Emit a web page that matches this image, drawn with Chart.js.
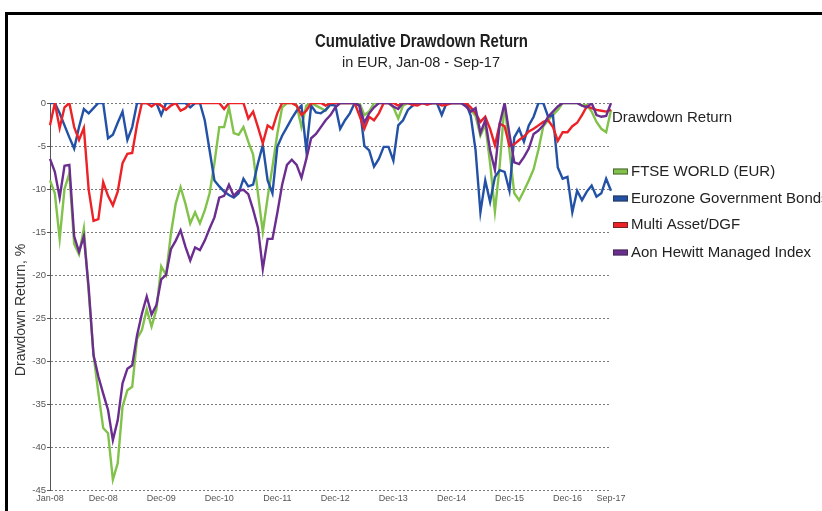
<!DOCTYPE html>
<html>
<head>
<meta charset="utf-8">
<script src="https://cdn.jsdelivr.net/npm/chart.js@4"></script>
<style>
html,body{margin:0;padding:0;background:#fff;}
#wrap{position:relative;width:822px;height:511px;overflow:hidden;}
#c{position:absolute;left:0;top:0;}
#frame{position:absolute;left:5px;top:12px;right:-10px;bottom:-10px;border-left:3px solid #000;border-top:3px solid #000;pointer-events:none;}
</style>
</head>
<body>
<div id="wrap"><canvas id="c" width="822" height="511"></canvas><div id="frame"></div></div>
<script>
// ---- data ----
const chartTitle = "Cumulative Drawdown Return";
const chartSubtitle = "in EUR, Jan-08 - Sep-17";
const yAxisTitle = "Drawdown Return, %";
const legendTitle = "Drawdown Return";
const seriesNames = ["FTSE WORLD (EUR)", "Eurozone Government Bonds", "Multi Asset/DGF", "Aon Hewitt Managed Index"];
const tickLabels = ["Jan-08","Dec-08","Dec-09","Dec-10","Dec-11","Dec-12","Dec-13","Dec-14","Dec-15","Dec-16","Sep-17"];
const monthNames = ["Jan","Feb","Mar","Apr","May","Jun","Jul","Aug","Sep","Oct","Nov","Dec"];
const firstYear = 2008, lastYear = 2017, lastMonthOfLastYear = 9;
const months = [];
for (let y = firstYear; y <= lastYear; y++) {
  for (let m = 0; m < 12; m++) {
    if (y === lastYear && m >= lastMonthOfLastYear) break;
    months.push(monthNames[m] + "-" + String(y).slice(2));
  }
}

const ftseWorld = [
  -9.0, -10.5, -15.8, -10.0, -8.2, -16.4, -17.6, -14.6, -22.0, -29.3,
  -33.7, -37.8, -38.4, -43.8, -41.9, -35.3, -33.4, -33.0, -27.4, -26.4,
  -24.0, -26.0, -24.0, -19.0, -20.0, -15.2, -11.7, -9.8, -11.7, -14.0,
  -12.7, -14.0, -12.5, -10.5, -7.0, -2.8, -2.8, -0.5, -3.5, -3.7,
  -2.8, -4.5, -6.0, -10.5, -15.0, -11.0, -7.4, -3.6, -0.5, 0,
  0, -0.3, -2.8, -0.3, 0, -0.3, -0.6, -0.9, 0, 0,
  0, 0, 0, 0, 0, -1.4, -1.0, 0, 0, 0,
  0, -0.5, -1.8, -0.3, 0, 0, 0, 0, 0, 0,
  0, 0, 0, 0, 0, 0, 0, -0.8, -1.5, -3.8,
  -2.5, -7.0, -12.6, -7.2, 0, -5.5, -10.5, -11.3, -10.2, -9.0,
  -7.7, -5.4, -2.7, -2.0, -1.4, -0.8, 0, 0, 0, 0,
  -0.3, -0.2, -1.0, -2.2, -3.0, -3.4, -0.8
];
const eurozoneBonds = [
  0, 0, -1.2, -2.6, -4.0, -5.3, -2.8, -0.7, -1.2, -0.6,
  0, 0, -4.1, -3.7, -2.3, -1.0, -4.3, -2.8, 0, 0,
  0, 0, 0, -1.4, 0, 0, 0, 0, 0, -0.5,
  0, 0, -2.0, -5.5, -9.0, -9.7, -10.3, -10.7, -11.0, -10.5,
  -8.8, -9.7, -9.5, -7.0, -4.9, -9.0, -10.5, -5.1, -3.8, -2.8,
  -1.8, -0.9, -0.3, -5.5, -0.3, -1.1, -1.2, -0.8, -0.2, -0.3,
  -3.0, -2.0, -1.2, 0, -0.3, -5.0, -5.5, -7.4, -6.5, -5.1,
  -5.1, -6.7, -2.6, -2.0, -0.8, -0.3, 0, 0, 0, 0,
  0, -1.4, 0, 0, 0, 0, 0, -1.5, -5.5, -12.7,
  -9.0, -11.5, -8.6, -7.8, -8.0, -10.2, -4.0, -3.0, -4.5, -2.6,
  -1.6, 0, 0, -1.6, -1.4, -7.5, -8.8, -8.6, -12.7, -10.2,
  -11.3, -10.3, -9.6, -10.9, -10.5, -8.8, -10.2
];
const multiAsset = [
  -2.6, 0, -2.9, -0.5, 0, -2.8, -4.3, -2.9, -10.1, -13.7,
  -13.5, -9.2, -10.8, -11.9, -10.3, -7.0, -5.9, -5.8, -2.5, 0,
  0, -0.4, 0, -0.3, -0.8, -0.3, 0, -0.9, -0.6, 0,
  0, 0, 0, 0, 0, 0, -0.7, 0, 0, 0,
  0, -1.8, -1.0, -2.8, -4.7, -2.6, -3.0, -1.2, 0, 0,
  0, -0.3, -1.4, -0.9, 0, 0, 0, -0.3, 0, 0,
  0, 0, 0, 0, -1.5, -3.0, -1.6, -2.0, -1.2, 0,
  0, 0, -0.3, 0, 0, -0.2, -0.3, 0, -0.2, 0,
  0, -0.3, -0.2, 0, 0, 0, 0, -0.5, -1.2, -2.2,
  -1.6, -3.0, -4.9, -2.4, -2.7, -5.0, -4.8, -4.3, -3.9, -3.3,
  -3.0, -2.6, -2.2, -2.0, -2.8, -4.4, -3.4, -3.4, -2.7, -2.3,
  -1.4, -0.4, -0.6, -0.8, -0.9, -1.0, -0.8
];
const aonManagedIndex = [
  -6.5, -8.0, -11.0, -7.3, -7.2, -15.5, -17.3, -15.5, -21.5, -29.3,
  -31.8, -33.8, -35.7, -39.2, -36.9, -32.6, -30.9, -30.5, -27.0, -24.5,
  -22.5, -24.6, -23.5, -20.5, -20.0, -17.0, -16.0, -14.8, -16.7, -18.3,
  -16.8, -17.1, -16.0, -14.6, -13.3, -11.0, -10.8, -9.5, -10.8, -10.2,
  -10.1, -10.6, -12.4, -14.5, -19.3, -15.8, -15.8, -12.8, -9.5, -7.2,
  -6.6, -7.2, -8.7, -6.5, -4.1, -3.6, -2.8, -2.0, -1.4, -0.5,
  0, 0, 0, 0, -0.3, -2.3, -1.2, -0.5, 0, 0,
  0, -0.4, -0.7, 0, 0, 0, 0, 0, 0, 0,
  0, 0, 0, 0, 0, 0, -0.4, -1.0, -0.6, -3.5,
  -2.0, -5.5, -7.8, -2.4, 0, -3.6, -6.9, -7.1, -6.3, -5.3,
  -3.6, -3.2, -2.6, -1.6, -1.0, -0.4, 0, 0, 0, 0,
  -0.3, -0.5, 0, -1.4, -1.6, -1.5, 0
];
const seriesColors = ["#80c24a", "#2251a6", "#ec2227", "#6b2d8f"];
const seriesValues = [ftseWorld, eurozoneBonds, multiAsset, aonManagedIndex];
const drawOrder = [4, 3, 2, 1];

// ---- style ----
const SANS = "'Liberation Sans', Arial, sans-serif";

function drawFittedText(ctx, text, cx, cy, font, targetWidth) {
  ctx.save();
  ctx.font = font;
  const w = ctx.measureText(text).width;
  const s = targetWidth / w;
  ctx.translate(cx, cy);
  ctx.scale(s, 1);
  ctx.fillText(text, 0, 0);
  ctx.restore();
}

const decorPlugin = {
  id: 'decor',
  afterDraw(chart) {
    const ctx = chart.ctx;
    ctx.save();
    // titles
    ctx.fillStyle = '#1e1e1e';
    ctx.textAlign = 'center';
    ctx.textBaseline = 'middle';
    drawFittedText(ctx, chartTitle, 421.5, 42, "bold 18px " + SANS, 213);
    ctx.fillStyle = '#222';
    drawFittedText(ctx, chartSubtitle, 421, 63, "15px " + SANS, 158);
    // y axis title
    ctx.save();
    ctx.translate(21, 310);
    ctx.rotate(-Math.PI / 2);
    ctx.font = "14px " + SANS;
    ctx.fillStyle = '#333';
    ctx.fillText(yAxisTitle, 0, 0);
    ctx.restore();
    // legend
    ctx.textAlign = 'left';
    ctx.font = "15px " + SANS;
    ctx.fillStyle = '#222';
    ctx.fillText(legendTitle, 612, 118);
    const itemY = [171.5, 198.5, 225, 252.5];
    seriesNames.forEach((name, i) => {
      const y = itemY[i];
      ctx.fillStyle = seriesColors[i];
      ctx.fillRect(613, y - 3, 15, 6);
      ctx.strokeStyle = 'rgba(40,40,40,0.6)';
      ctx.lineWidth = 1;
      ctx.strokeRect(613.5, y - 2.5, 14, 5);
      ctx.fillStyle = '#222';
      ctx.fillText(name, 631, y);
    });
    ctx.restore();
  }
};

new Chart(document.getElementById('c'), {
  type: 'line',
  data: {
    labels: months,
    datasets: seriesNames.map((name, i) => ({
      label: name,
      data: seriesValues[i],
      borderColor: seriesColors[i],
      backgroundColor: seriesColors[i],
      borderWidth: 2.4,
      pointRadius: 0,
      tension: 0,
      fill: false,
      order: drawOrder[i]
    }))
  },
  options: {
    responsive: false,
    animation: false,
    devicePixelRatio: 1,
    layout: { padding: { left: 0, right: 211, top: 103, bottom: 0 } },
    plugins: {
      legend: { display: false },
      title: { display: false },
      tooltip: { enabled: false }
    },
    scales: {
      x: {
        type: 'category',
        offset: false,
        grid: { display: false, drawTicks: false },
        border: { display: false },
        ticks: {
          autoSkip: false, maxRotation: 0, minRotation: 0, padding: 3,
          color: '#555', font: { family: SANS, size: 9 },
          callback: function (v) {
            const l = this.getLabelForValue(v);
            return tickLabels.includes(l) ? l : '';
          }
        },
        afterFit: (s) => { s.height = 21; }
      },
      y: {
        min: -45, max: 0,
        ticks: { stepSize: 5, color: '#555', font: { family: SANS, size: 9.5 }, padding: 1 },
        grid: { color: '#7a7a7a', lineWidth: 1, drawTicks: true, tickLength: 3, tickColor: '#555', tickBorderDash: [] },
        border: { display: true, color: '#555', width: 1, dash: [2, 2] },
        afterFit: (s) => { s.width = 50; }
      }
    }
  },
  plugins: [decorPlugin]
});
</script>
</body>
</html>
